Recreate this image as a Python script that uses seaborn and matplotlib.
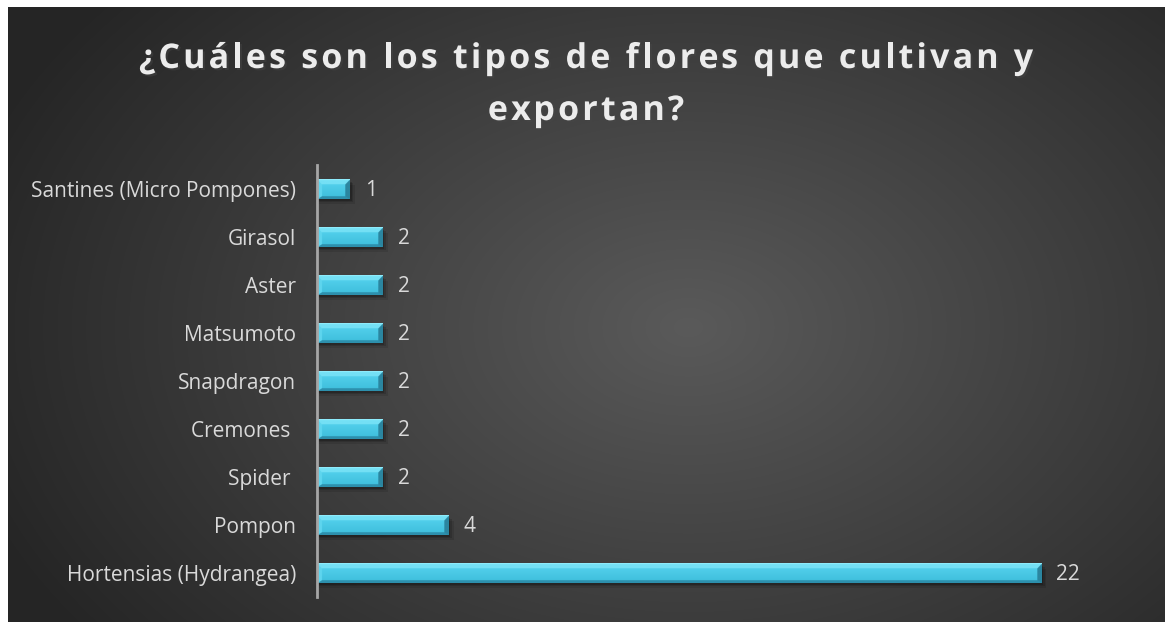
import numpy as np
import matplotlib
matplotlib.use("Agg")
import matplotlib.pyplot as plt
import matplotlib.patheffects as pe
from matplotlib.colors import to_rgb
from matplotlib.font_manager import FontProperties
import seaborn as sns

# data (top to bottom as shown)
flores = ["Santines (Micro Pompones)", "Girasol", "Aster", "Matsumoto",
          "Snapdragon", "Cremones ", "Spider ", "Pompon", "Hortensias (Hydrangea)"]
cantidad = [1, 2, 2, 2, 2, 2, 2, 4, 22]
titulo = ["¿Cuáles son los tipos de flores que cultivan y", "exportan?"]

W, H = 1165, 622
sns.set_theme(style="white")
plt.rcParams["font.family"] = ["Open Sans", "DejaVu Sans"]

fig = plt.figure(figsize=(W / 100, H / 100), dpi=100, facecolor="white")

# radial gradient background
bg = fig.add_axes([8 / W, 0, 1 - 8 / W, 1 - 7 / H], zorder=0)
yy, xx = np.mgrid[0:615, 0:1157]
cx, cy = 680, 320
r = np.sqrt(((xx - cx) / 760) ** 2 + ((yy - cy) / 520) ** 2)
r = np.clip(r, 0, 1)
shade = 0x5a / 255 * (1 - r) + 0x25 / 255 * r
bg.imshow(np.dstack([shade] * 3), aspect="auto", extent=[0, 1, 0, 1])
bg.set_axis_off()

ax = fig.add_axes([317 / W, 25 / H, 823 / W, (597 - 165) / H], zorder=1)
ax.set_facecolor("none")
sns.barplot(x=cantidad, y=flores, color="#45c6e3", width=0.4, orient="h",
            linewidth=0, ax=ax)
ax.set_xlim(0, 25)
ax.set_ylim(8.5, -0.5)

px_per_x = 823 / 25
px_per_y = 48


def bevel_image(wpx, hpx, b=5, s=3):
    # pixel image of a bevelled bar: light top/left faces, dark bottom/right
    nw, nh = int(wpx * s), int(hpx * s)
    jj, ii = np.meshgrid(np.arange(nw) / s, np.arange(nh) / s)
    dt, db = ii, hpx - ii
    dl, dr = jj, wpx - jj
    t = ii / hpx
    body = np.array(to_rgb("#58d5f0"))[None, None, :] * (1 - t[..., None]) + \
        np.array(to_rgb("#3cbcda"))[None, None, :] * t[..., None]
    img = body.copy()
    faces = np.stack([dt, dl, db * 1.6, dr])
    face = np.argmin(faces, axis=0)
    inner = faces.min(axis=0) < b
    cols = [to_rgb("#74e0f5"), to_rgb("#5ed5ee"), to_rgb("#2d90ad"), to_rgb("#2b86a0")]
    for k, c in enumerate(cols):
        m = inner & (face == k)
        img[m] = c
    img[ii < 1] = to_rgb("#90ecfc")
    return img


for p in list(ax.patches):
    x0, y0 = p.get_x(), p.get_y()
    w, h = p.get_width(), p.get_height()
    # soft drop shadow
    for k, a in enumerate([0.18, 0.14, 0.1]):
        ax.add_patch(plt.Rectangle((x0, y0 + 0.05 + k * 0.03), w + 0.05 + k * 0.05, h,
                                   color="black", alpha=a, zorder=1.5, lw=0))
    p.set_zorder(2)
    img = bevel_image(w * px_per_x, h * px_per_y)
    ax.imshow(img, aspect="auto", extent=[x0, x0 + w, y0 + h, y0], zorder=2.5,
              interpolation="antialiased")
    ax.text(x0 + w + 0.45, y0 + h / 2 + 0.04, str(int(w)), va="center", ha="left",
            color="#d9d9d9", fontsize=15)

ax.set_ylim(8.5, -0.5)
ax.set_xlim(0, 25)
ax.set_xticks([])
ax.set_xlabel("")
ax.set_ylabel("")
for s in ["top", "right", "bottom"]:
    ax.spines[s].set_visible(False)
ax.spines["left"].set_color("#a6a6a6")
ax.spines["left"].set_linewidth(2)
ax.spines["left"].set_zorder(3)
ax.tick_params(axis="y", length=0, pad=15, labelcolor="#d9d9d9", labelsize=15)

# title with letter spacing, drawn char by char
renderer = fig.canvas.get_renderer()
tprop = FontProperties(family=["Open Sans", "DejaVu Sans"], weight="bold", size=24.5)
spacing = 3.2
ref_w = renderer.get_text_width_height_descent("l", tprop, ismath=False)[0]


def text_w(s):
    return renderer.get_text_width_height_descent(s + "l", tprop, ismath=False)[0] - ref_w


for line, ypx in zip(titulo, [55, 107]):
    total = text_w(line) + spacing * (len(line) - 1)
    start = 586 - total / 2
    for i, ch in enumerate(line):
        if ch == " ":
            continue
        xpx = start + text_w(line[:i]) + spacing * i
        fig.text(xpx / W, 1 - ypx / H, ch, ha="left", va="center_baseline",
                 fontproperties=tprop, color="#ececec",
                 path_effects=[pe.withSimplePatchShadow(offset=(1.5, -1.5),
                                                        alpha=0.45)])

fig.savefig("out.png", dpi=100, facecolor="white")
